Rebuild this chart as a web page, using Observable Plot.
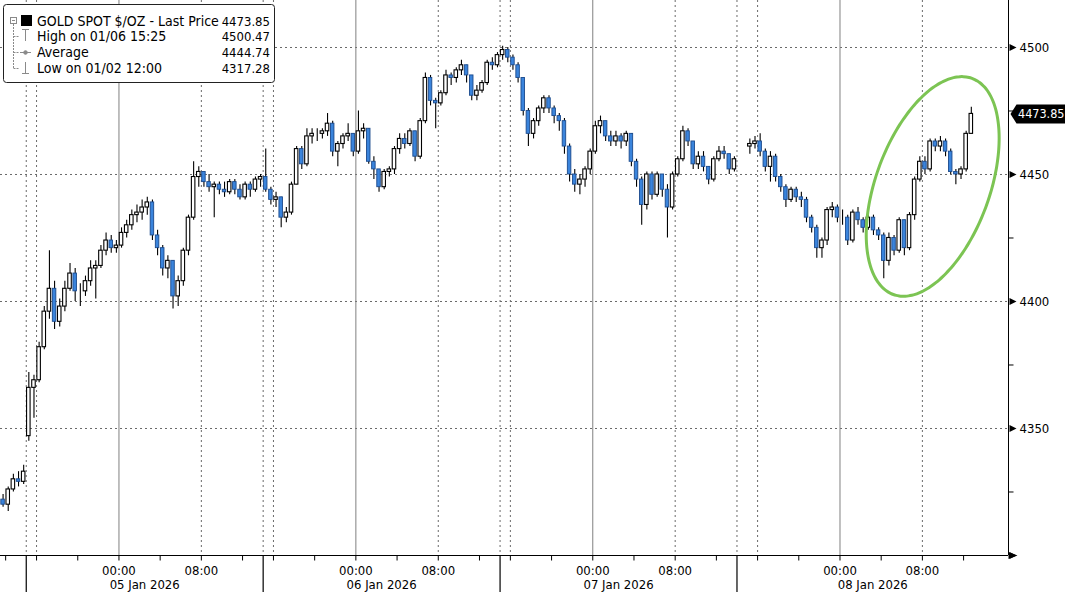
<!DOCTYPE html>
<html><head><meta charset="utf-8">
<script src="https://cdn.jsdelivr.net/npm/d3@7"></script>
<script src="https://cdn.jsdelivr.net/npm/@observablehq/plot@0.6"></script>
<style>
html,body{margin:0;padding:0;background:#fff;}
#wrap{position:relative;width:1065px;height:592px;overflow:hidden;background:#fff;}
#legend{position:absolute;left:0;top:0;}
.f{font-family:"DejaVu Sans Condensed","DejaVu Sans",sans-serif;font-stretch:condensed;}
</style></head><body>
<div id="wrap" class="f"><div id="chart"></div><div id="legend"></div></div>
<script>
// ---------- DATA ----------
const sessionLabels = ["02 Jan 2026", "05 Jan 2026", "06 Jan 2026", "07 Jan 2026", "08 Jan 2026"];
const sessionStartT = [0, 2.5, 25.5, 48.5, 71.5];        // trading-hour position of each session start
const sessionStartClock = [11.5, 15, 15, 15, 14];       // clock hour at session start
const sessionEndT = [2.5, 25.5, 48.5, 71.5, 97.86];
const firstBarClock = [11.5, 15, 15, 15, 15];
const sessionOpen = [4322, 4347, 4449, 4497, 4461];

const s0Close = [4320, 4326, 4330, 4329, 4333];
const s0High  = [4324, 4327, 4332, 4333, 4335.5];
const s0Low   = [4319, 4317.28, 4325, 4327, 4328];

const s1Close = [4366,4369,4382,4396,4405,4392,4398,4405,4411,4404,4404,4408,4413,4414,4420,4424,4421,4422,4427,4430,4434,4435,4437,4439,4426,4421,4413,4416,4402,4408,4420,4433,4449,4451,4447,4445,4446,4444,4443,4447,4444,4441,4446,4444,4448,4449];
const s1High  = [4372,4371,4384,4398,4420,4408,4401,4408,4415,4413,4407,4410,4416,4416,4422,4427,4426,4424,4429,4432,4436,4438,4440,4441,4440,4428,4422,4418,4416,4410,4421,4434,4455,4453,4451,4450,4447,4447,4447,4448,4448,4446,4447,4447,4449,4450];
const s1Low   = [4345,4354,4368,4381,4393,4389,4390,4396,4404,4400,4398,4402,4406,4401,4413,4418,4419,4419,4421,4425,4428,4431,4432,4434,4424,4418,4410,4409,4397,4398,4406,4418,4432,4445,4445,4443,4433,4442,4441,4442,4442,4440,4440,4441,4443,4445];

const s2Close = [4444,4440,4441,4433,4435,4446,4460,4454,4465,4466,4466,4467,4470,4459,4462,4465,4466,4459,4467,4468,4455,4452,4445,4451,4452,4460,4464,4462,4467,4457,4471,4488,4479,4478,4482,4489,4488,4491,4493,4489,4481,4483,4486,4494,4493,4497];
const s2High  = [4460,4445,4443,4441,4437,4447,4461,4461,4468,4468,4468,4468,4474,4471,4463,4466,4470,4466,4475,4470,4468,4457,4452,4452,4453,4461,4466,4466,4468,4467,4472,4490,4489,4480,4483,4491,4490,4492,4495,4493,4489,4485,4487,4495,4496,4498];
const s2Low   = [4443,4438,4437,4429,4431,4434,4446,4452,4453,4462,4463,4464,4465,4457,4453,4460,4463,4457,4458,4464,4454,4448,4443,4444,4449,4450,4458,4460,4461,4455,4456,4470,4477,4468,4477,4481,4485,4486,4489,4486,4479,4479,4482,4485,4491,4492];

const s3Close = [4499,4496,4493,4488,4475,4466,4471,4476,4480,4476,4473,4471,4461,4450,4446,4448,4452,4459,4469,4471,4465,4463,4465,4463,4466,4455,4448,4438,4450,4442,4450,4444,4437,4450,4456,4467,4463,4454,4457,4453,4448,4456,4459,4458,4452,4456];
const s3High  = [4500.47,4500,4497,4494,4488,4476,4472,4477,4481,4481,4477,4474,4472,4462,4452,4450,4453,4460,4471,4473,4471,4467,4467,4466,4467,4466,4456,4449,4451,4451,4451,4450,4446,4451,4457,4469,4468,4463,4459,4459,4453,4457,4461,4461,4458,4457];
const s3Low   = [4495,4494,4491,4486,4473,4461,4464,4469,4474,4474,4470,4467,4458,4447,4443,4442,4445,4450,4458,4466,4463,4461,4461,4460,4461,4453,4445,4430,4436,4440,4441,4441,4425,4436,4449,4455,4461,4452,4452,4451,4446,4447,4455,4456,4450,4451];

const s4Close = [4462,4463,4459,4453,4457,4449,4445,4440,4444,4441,4440,4433,4429,4421,4424,4436,4437,4433,4433,4424,4435,4432,4429,4433,4428,4426,4416,4425,4420,4432,4421,4434,4448,4455,4452,4463,4461,4463,4459,4451,4450,4452,4466,4473.85];
const s4High  = [4464,4465,4466,4460,4459,4458,4450,4446,4445,4445,4443,4441,4434,4430,4425,4437,4439,4438,4436,4434,4436,4437,4433,4434,4434,4429,4427,4427,4426,4433,4432,4435,4449,4457,4457,4464,4464,4465,4464,4460,4452,4453,4467,4476.5];
const s4Low   = [4458,4460,4457,4451,4447,4447,4443,4437,4439,4439,4437,4431,4427,4417,4417,4422,4433,4431,4430,4422,4423,4430,4427,4428,4426,4424,4409,4414,4418,4419,4418,4420,4432,4447,4450,4451,4459,4459,4457,4450,4446,4448,4451,4466];

const yGridValues = [4350, 4400, 4450, 4500];
const yMajorTicks = [4300, 4350, 4400, 4450, 4500];
const yTickLabels = ["4350", "4400", "4450", "4500"];
const yMinorTicks = [4325, 4375, 4425, 4475];
const tickHours = [0, 4, 8, 12, 16, 20];
const lastPrice = 4473.85;

const legendRows = [
  {label: "GOLD SPOT $/OZ - Last Price", value: "4473.85"},
  {label: "High on 01/06 15:25", value: "4500.47"},
  {label: "Average", value: "4444.74"},
  {label: "Low on 01/02 12:00", value: "4317.28"}
];

// annotation ellipse (centre in data units; radii / tilt in screen pixels)
const ellipseSpec = {t: 90.5, p: 4445.3, a: 115, b: 57, tilt: 20};

// ---------- LAYOUT ----------
const W = 1065, H = 592, mR = 57, mB = 37;
const xMax = sessionEndT[sessionEndT.length - 1];
const yDomain = [4300, 4518.5];
const FONT = '"DejaVu Sans Condensed","DejaVu Sans",sans-serif';

// build candles
const closes = [s0Close, s1Close, s2Close, s3Close, s4Close];
const highs = [s0High, s1High, s2High, s3High, s4High];
const lows = [s0Low, s1Low, s2Low, s3Low, s4Low];
const bars = [];
closes.forEach((cs, i) => {
  let prev = sessionOpen[i];
  const off = (firstBarClock[i] - sessionStartClock[i] + 24) % 24;
  cs.forEach((c, k) => {
    const t = sessionStartT[i] + off + 0.5 * k + 0.25;
    bars.push({t, o: prev, c, h: highs[i][k], l: lows[i][k]});
    prev = c;
  });
});
const upBars = bars.filter(d => d.c >= d.o);
const downBars = bars.filter(d => d.c < d.o);

// time ticks
const ticks = [];
sessionStartT.forEach((st, i) => {
  tickHours.forEach(h => {
    const off = (h - sessionStartClock[i] + 24) % 24;
    const t = st + off;
    if (off > 0 && t < sessionEndT[i] - 0.01 && t < xMax - 0.3) ticks.push({t, h});
  });
});
const midnights = ticks.filter(d => d.h === 0);
const dotted = ticks.filter(d => d.h === 8 || d.h === 16).map(d => d.t)
  .concat(sessionStartT.slice(1));
const labelTicks = ticks.filter(d => d.h === 0 || d.h === 8);
const boundaries = sessionStartT.slice(1);
const dateLabels = sessionLabels.map((s, i) => ({s, t: (sessionStartT[i] + Math.min(sessionEndT[i], xMax)) / 2, n: sessionEndT[i] - sessionStartT[i]}))
  .filter(d => d.n > 10);

// ellipse outline
const pxPerHour = (W - mR) / xMax;
const pxPerDollar = (H - mB) / (yDomain[1] - yDomain[0]);
const th = ellipseSpec.tilt * Math.PI / 180;
const ellipsePts = d3.range(0, 361, 3).map(deg => {
  const f = deg * Math.PI / 180;
  const dx = ellipseSpec.a * Math.cos(f) * Math.sin(th) + ellipseSpec.b * Math.sin(f) * Math.cos(th);
  const dy = -ellipseSpec.a * Math.cos(f) * Math.cos(th) + ellipseSpec.b * Math.sin(f) * Math.sin(th);
  return {t: ellipseSpec.t + dx / pxPerHour, p: ellipseSpec.p - dy / pxPerDollar};
});

// custom symbols
const sym = fn => ({draw(ctx) { fn(ctx); }});
const arrowRight = sym(c => { c.moveTo(1, -3.5); c.lineTo(8, 0); c.lineTo(1, 3.5); c.closePath(); });
const minorTick = sym(c => { c.moveTo(0, 0); c.lineTo(5, 0); });
const smallDown = sym(c => { c.moveTo(0, 0); c.lineTo(0, 5); });
const longDown = sym(c => { c.moveTo(0, 0); c.lineTo(0, 40); });
const axisArrow = sym(c => { c.moveTo(0, -3.5); c.lineTo(9, 0); c.lineTo(0, 3.5); c.closePath(); });
const priceBox = sym(c => { c.moveTo(2, 0); c.lineTo(8, -9.5); c.lineTo(58, -9.5); c.lineTo(58, 9.5); c.lineTo(8, 9.5); c.closePath(); });

const Y0 = () => yDomain[0];
const XM = () => xMax;
const hw = 0.17;

const chart = Plot.plot({
  width: W, height: H,
  marginLeft: 0, marginRight: mR, marginTop: 0, marginBottom: mB,
  x: {domain: [0, xMax], axis: null},
  y: {domain: yDomain, axis: null},
  style: {fontFamily: FONT, fontSize: "13px", color: "black", background: "white", overflow: "visible"},
  marks: [
    Plot.ruleY(yGridValues, {stroke: "#6a6a6a", strokeDasharray: "2,3"}),
    Plot.ruleX(dotted, {stroke: "#6a6a6a", strokeDasharray: "2,3"}),
    Plot.ruleX(midnights, {x: "t", stroke: "#808080"}),
    // candles
    Plot.ruleX(bars, {x: "t", y1: "l", y2: "h", stroke: "#000", strokeWidth: 1.1}),
    Plot.rect(upBars, {x1: d => d.t - hw, x2: d => d.t + hw, y1: "o", y2: "c", fill: "#fff", stroke: "#000", strokeWidth: 1.1}),
    Plot.rect(downBars, {x1: d => d.t - hw, x2: d => d.t + hw, y1: "o", y2: "c", fill: "#3a84dc", stroke: "#1b4a8c", strokeWidth: 0.9}),
    // annotation
    Plot.line(ellipsePts, {x: "t", y: "p", stroke: "#7cc453", strokeWidth: 3, curve: "catmull-rom"}),
    // right axis
    Plot.ruleX([xMax], {stroke: "#000"}),
    Plot.dot(yMajorTicks, {x: XM, y: d => d, symbol: arrowRight, fill: "#000", stroke: "none", r: 3}),
    Plot.dot(yMinorTicks, {x: XM, y: d => d, symbol: minorTick, fill: "none", stroke: "#000", strokeWidth: 1, r: 3}),
    Plot.text(yTickLabels, {x: XM, y: d => +d, text: d => d, dx: 11, textAnchor: "start", fill: "#000", fontSize: 13}),
    // bottom axis
    Plot.ruleY([yDomain[0]], {stroke: "#000"}),
    Plot.dot([0], {x: XM, y: Y0, symbol: axisArrow, fill: "#000", stroke: "none", r: 3}),
    Plot.dot(ticks, {x: "t", y: Y0, symbol: smallDown, fill: "none", stroke: "#000", strokeWidth: 1, r: 3}),
    Plot.dot(boundaries, {x: d => d, y: Y0, symbol: longDown, fill: "none", stroke: "#000", strokeWidth: 1.2, r: 3}),
    Plot.text(labelTicks, {x: "t", y: Y0, text: d => d.h === 0 ? "00:00" : "08:00", dy: 15, fill: "#000", fontSize: 13}),
    Plot.text(dateLabels, {x: "t", y: Y0, text: "s", dy: 29, fill: "#000", fontSize: 13}),
    // last price tag
    Plot.dot([lastPrice], {x: XM, y: d => d, symbol: priceBox, fill: "#000", stroke: "none", r: 3}),
    Plot.text([lastPrice], {x: XM, y: d => d, text: d => d.toFixed(2), dx: 9.5, textAnchor: "start", fill: "#fff", fontSize: 12.5})
  ]
});
document.getElementById("chart").appendChild(chart);

// ---------- LEGEND (overlay) ----------
const lg = d3.select("#legend").append("svg").attr("width", 290).attr("height", 90)
  .style("font-family", FONT).style("font-size", "14px");
const boxW = 271;
lg.append("rect").attr("x", 3.5).attr("y", 4.5).attr("width", boxW).attr("height", 78).attr("rx", 3)
  .attr("fill", "#fff").attr("stroke", "#222");
const rowY = [21, 36, 52, 68];
const g = lg.append("g").attr("stroke", "#8a8a8a").attr("fill", "none");
g.append("rect").attr("x", 10.5).attr("y", 17.5).attr("width", 6).attr("height", 6);
g.append("line").attr("x1", 12).attr("x2", 15).attr("y1", 20.5).attr("y2", 20.5);
g.append("line").attr("x1", 13.5).attr("x2", 13.5).attr("y1", 24).attr("y2", rowY[3]).attr("stroke-dasharray", "2,1");
rowY.slice(1).forEach(y => g.append("line").attr("x1", 13.5).attr("x2", 19).attr("y1", y + 0.5).attr("y2", y + 0.5).attr("stroke-dasharray", "2,1"));
// high icon
g.append("line").attr("x1", 22).attr("x2", 29).attr("y1", 29.5).attr("y2", 29.5);
g.append("line").attr("x1", 25.5).attr("x2", 25.5).attr("y1", 29.5).attr("y2", 41);
// average icon
g.append("line").attr("x1", 20).attr("x2", 31).attr("y1", 52.5).attr("y2", 52.5);
g.append("circle").attr("cx", 25.5).attr("cy", 52.5).attr("r", 1.8).attr("fill", "#8a8a8a");
// low icon
g.append("line").attr("x1", 25.5).attr("x2", 25.5).attr("y1", 62).attr("y2", 73.5);
g.append("line").attr("x1", 22).attr("x2", 29).attr("y1", 73.5).attr("y2", 73.5);
lg.append("rect").attr("x", 21).attr("y", 15).attr("width", 11).attr("height", 11).attr("fill", "#000");
legendRows.forEach((r, i) => {
  lg.append("text").attr("x", 37).attr("y", rowY[i]).attr("dy", "0.36em").attr("fill", "#000").text(r.label);
  lg.append("text").attr("x", boxW - 1).attr("y", rowY[i]).attr("dy", "0.36em").attr("text-anchor", "end")
    .attr("font-size", "13px").attr("fill", "#000").text(r.value);
});
</script></body></html>
